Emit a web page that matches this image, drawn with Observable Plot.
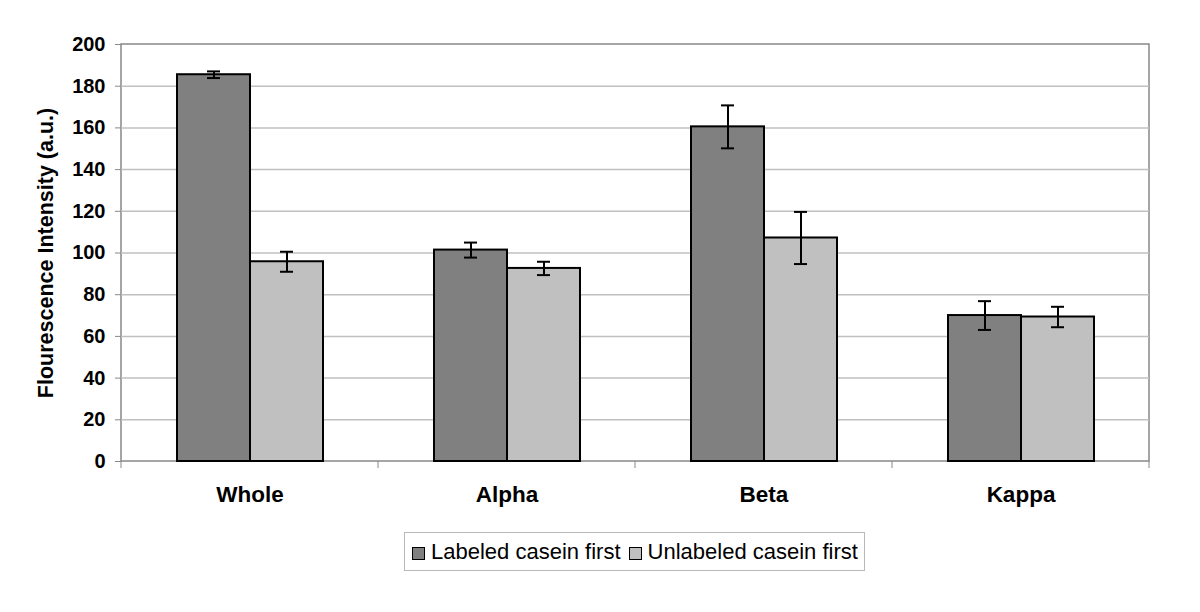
<!DOCTYPE html>
<html>
<head>
<meta charset="utf-8">
<script src="https://cdn.jsdelivr.net/npm/d3@7"></script>
<script src="https://cdn.jsdelivr.net/npm/@observablehq/plot@0.6"></script>
<style>
  html, body { margin: 0; padding: 0; background: #fff; }
  #wrap { position: relative; width: 1200px; height: 612px; font-family: "Liberation Sans", Arial, sans-serif; }
  #legend {
    position: absolute; left: 404px; top: 532px; width: 461px; height: 39px;
    box-sizing: border-box; border: 1px solid #b8b8b8; background: #fff;
    display: flex; align-items: center; padding-left: 7px;
    font-size: 22px; color: #000; white-space: nowrap;
  }
  #legend .item { display: flex; align-items: center; margin-right: 8px; }
  #legend .sw { width: 13px; height: 13px; box-sizing: border-box; border: 1.5px solid #000; margin-right: 6px; margin-top: 3px; }
</style>
</head>
<body>
<div id="wrap"></div>
<script>
const categories = ["Whole", "Alpha", "Beta", "Kappa"];
const seriesNames = ["Labeled casein first", "Unlabeled casein first"];
const labeledValues = [185.5, 101.4, 160.5, 70.0];
const labeledErrors = [1.6, 3.6, 10.3, 6.9];
const unlabeledValues = [95.8, 92.6, 107.2, 69.3];
const unlabeledErrors = [4.8, 3.2, 12.5, 4.9];
const yTicks = [0, 20, 40, 60, 80, 100, 120, 140, 160, 180, 200];
const seriesColors = ["#808080", "#c0c0c0"];

const data = [];
categories.forEach((c, i) => {
  data.push({cat: c, series: seriesNames[0], value: labeledValues[i], err: labeledErrors[i]});
  data.push({cat: c, series: seriesNames[1], value: unlabeledValues[i], err: unlabeledErrors[i]});
});

const plot = Plot.plot({
  width: 1200,
  height: 520,
  marginLeft: 120,
  marginRight: 50,
  marginTop: 44,
  marginBottom: 59,
  style: {fontFamily: "'Liberation Sans', Arial, sans-serif", background: "#fff", color: "#000", overflow: "visible"},
  fx: {domain: categories, padding: 0, label: null},
  x: {domain: seriesNames, paddingInner: 0, paddingOuter: 0.75, axis: null},
  y: {domain: [0, 200]},
  color: {domain: seriesNames, range: seriesColors},
  marks: [
    Plot.ruleY(yTicks.filter(v => v > 0 && v < 200), {stroke: "#c0c0c0", strokeWidth: 1.5}),
    Plot.barY(data, {fx: "cat", x: "series", y: "value", fill: "series", stroke: "#000", strokeWidth: 2}),
    Plot.ruleX(data, {fx: "cat", x: "series", y1: d => d.value - d.err, y2: d => d.value + d.err, stroke: "#000", strokeWidth: 2}),
    Plot.tickY(data, {fx: "cat", x: "series", y: d => d.value - d.err, stroke: "#000", strokeWidth: 2, insetLeft: 30, insetRight: 30}),
    Plot.tickY(data, {fx: "cat", x: "series", y: d => d.value + d.err, stroke: "#000", strokeWidth: 2, insetLeft: 30, insetRight: 30}),
    Plot.axisY({ticks: yTicks, tickSize: 6, tickPadding: 10, fontSize: 20, fontWeight: "bold",
      stroke: "#888", fill: "#000",
      label: "Flourescence Intensity (a.u.)", labelAnchor: "center", labelOffset: 84, labelArrow: "none"}),
    Plot.axisFx({anchor: "bottom", tickSize: 0, tickPadding: 25, fontSize: 22.5, fontWeight: "bold", fill: "#000", label: null})
  ]
});

document.getElementById("wrap").appendChild(plot);

const svg = d3.select(plot.tagName.toLowerCase() === "svg" ? plot : plot.querySelector("svg"));
// enlarge the y-axis title
svg.selectAll('[aria-label="y-axis label"]').attr("font-size", 21.5).attr("font-weight", "bold");

// outer frame and group boundary ticks, positioned with the plot's own scales
const fxs = plot.scale("fx");
const ys = plot.scale("y");
const x0 = fxs.apply(categories[0]);
const x1 = fxs.apply(categories[categories.length - 1]) + fxs.bandwidth;
const yBottom = ys.apply(0), yTop = ys.apply(200);
const g = svg.insert("g", "g").attr("stroke", "#888").attr("fill", "none");
g.append("rect").attr("x", x0).attr("y", yTop).attr("width", x1 - x0).attr("height", yBottom - yTop).attr("stroke-width", 1.5);
const bounds = categories.map(c => fxs.apply(c)).concat([x1]);
g.selectAll("line.b").data(bounds).join("line").attr("class", "b")
  .attr("x1", d => d).attr("x2", d => d).attr("y1", yBottom).attr("y2", yBottom + 7).attr("stroke-width", 1);

// legend
const legend = d3.select("#wrap").append("div").attr("id", "legend");
seriesNames.forEach((s, i) => {
  const it = legend.append("div").attr("class", "item");
  it.append("div").attr("class", "sw").style("background", seriesColors[i]);
  it.append("span").text(s);
});
</script>
</body>
</html>
